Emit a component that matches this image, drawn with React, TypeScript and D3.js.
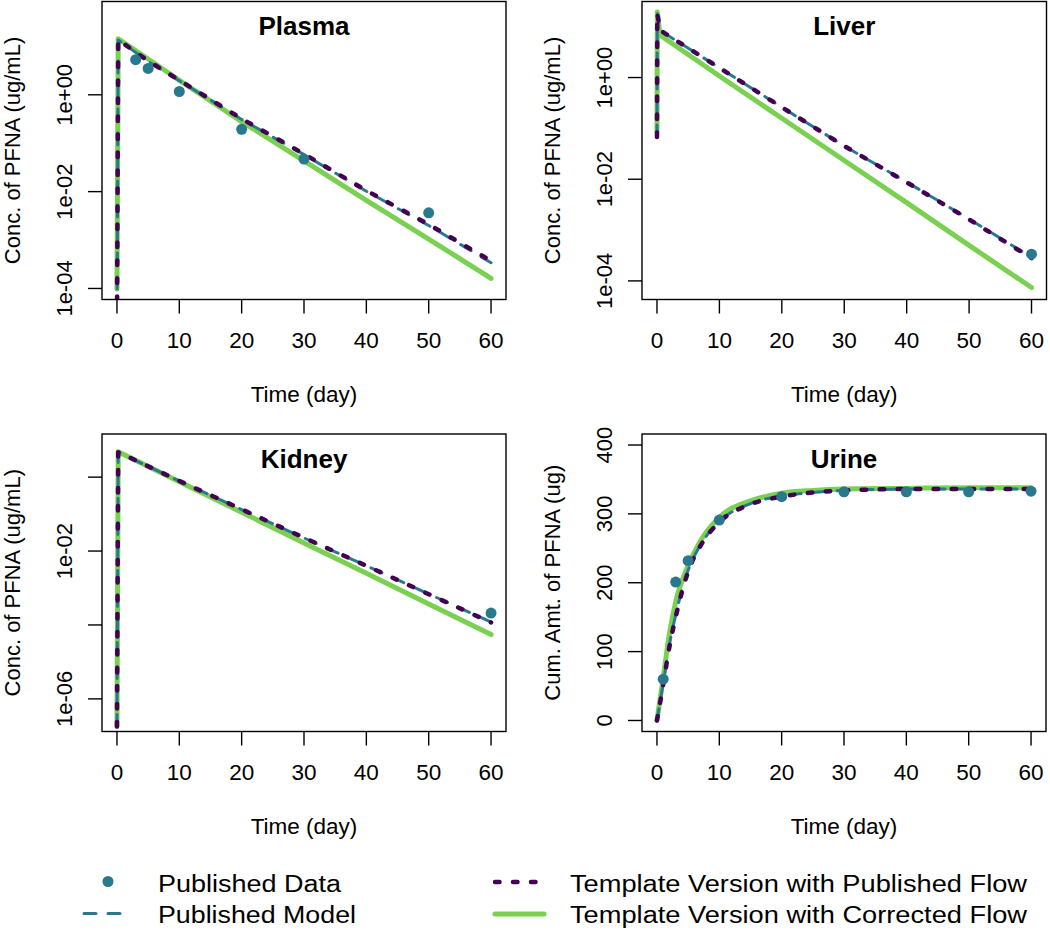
import React from 'react';
import * as d3 from 'd3';

// ---------- shared axis data ----------
const timeTicks = [0, 10, 20, 30, 40, 50, 60];
const timeLimits = [0, 60];

// ---------- Plasma ----------
const plasmaObsTime = [3, 5, 10, 20, 30, 50];
const plasmaObsValue = [5.3, 3.5, 1.17, 0.194, 0.047, 0.00365];
const plasmaModelTime = [0, 0.2, 5, 10, 20, 30, 40, 50, 60];
const plasmaPublishedModel = [1e-5, 13.5, 4.9, 1.95, 0.31, 0.058, 0.0102, 0.002, 3.4e-4];
const plasmaTemplatePublished = [1e-5, 13.7, 5.0, 2.0, 0.32, 0.06, 0.0105, 0.0021, 3.7e-4];
const plasmaTemplateCorrected = [9.8e-5, 14.4, 5.5, 2.0, 0.28, 0.043, 0.0066, 0.00105, 1.62e-4];
const plasmaYLim = [1e-4, 50];
const plasmaYTicks = [1e-4, 1e-2, 1];
const plasmaYTickLabels = ['1e-04', '1e-02', '1e+00'];

// ---------- Liver ----------
const liverObsTime = [60];
const liverObsValue = [3.35e-4];
const liverModelTime = [0, 0.05, 0.5, 10, 20, 30, 40, 50, 60];
const liverPublishedModel = [0.068, 18.0, 8.4, 1.55, 0.26, 0.045, 0.0088, 0.00165, 2.9e-4];
const liverTemplatePublished = [0.068, 18.2, 8.5, 1.55, 0.26, 0.045, 0.0087, 0.00162, 2.8e-4];
const liverTemplateCorrected = [0.085, 19.5, 6.8, 1.07, 0.158, 0.0234, 0.00347, 5.0e-4, 7.4e-5];
const liverYLim = [7.1e-5, 19];
const liverYTicks = [1e-4, 1e-2, 1];
const liverYTickLabels = ['1e-04', '1e-02', '1e+00'];

// ---------- Kidney ----------
const kidneyObsTime = [60];
const kidneyObsValue = [2.1e-4];
const kidneyModelTime = [0, 0.2, 10, 20, 30, 40, 50, 60];
const kidneyPublishedModel = [1.8e-7, 4.7, 0.78, 0.133, 0.0226, 0.004, 6.9e-4, 1.2e-4];
const kidneyTemplatePublished = [1.8e-7, 4.74, 0.79, 0.135, 0.0229, 0.004, 6.8e-4, 1.17e-4];
const kidneyTemplateCorrected = [1.8e-7, 4.9, 0.75, 0.112, 0.0166, 0.00251, 3.7e-4, 5.5e-5];
const kidneyYLim = [2.6e-7, 7.4];
const kidneyYTicks = [1e-6, 1e-4, 1e-2, 1];
const kidneyYTickLabels = ['1e-06', '', '1e-02', ''];

// ---------- Urine ----------
const urineObsTime = [1, 3, 5, 10, 20, 30, 40, 50, 60];
const urineObsValue = [60, 201, 232, 291, 325, 332, 332, 332, 333];
const urineModelTime = [0, 1, 2, 3, 5, 7, 10, 15, 20, 25, 30, 40, 50, 60];
const urinePublishedModel = [0, 54, 110, 153, 218, 255, 289, 315, 326, 331, 334, 336, 336, 336];
const urineTemplatePublished = [0, 52, 107, 150, 216, 254, 288, 314, 325, 331, 334, 336, 336, 336];
const urineTemplateCorrected = [0, 62, 126, 172, 225, 261, 295, 319, 330, 334, 336, 337, 338, 338];
const urineYLim = [0, 400];
const urineYTicks = [0, 100, 200, 300, 400];
const urineYTickLabels = ['0', '100', '200', '300', '400'];

// ---------- legend ----------
const legendLabels = [
  'Published Data',
  'Published Model',
  'Template Version with Published Flow',
  'Template Version with Corrected Flow',
];

// ---------- styles ----------
const COL_DATA = '#2A788E';
const COL_PUB = '#440154';
const COL_COR = '#7AD151';
const FONT = '"Liberation Sans", Arial, Helvetica, sans-serif';

type Box = { x0: number; x1: number; y0: number; y1: number };

type PanelProps = {
  id: string;
  title: string;
  ylab: string;
  box: Box;
  log: boolean;
  yLim: number[];
  yTicks: number[];
  yTickLabels: string[];
  obsT: number[];
  obsV: number[];
  modT: number[];
  pubModel: number[];
  tplPub: number[];
  tplCor: number[];
  smooth?: boolean;
};

function Panel(p: PanelProps) {
  const { box } = p;
  const xExt = (timeLimits[1] - timeLimits[0]) * 0.04;
  const x = d3
    .scaleLinear()
    .domain([timeLimits[0] - xExt, timeLimits[1] + xExt])
    .range([box.x0, box.x1]);

  let y: any;
  if (p.log) {
    const lo = Math.log10(p.yLim[0]);
    const hi = Math.log10(p.yLim[1]);
    const e = (hi - lo) * 0.04;
    y = d3.scaleLog().domain([Math.pow(10, lo - e), Math.pow(10, hi + e)]).range([box.y1, box.y0]);
  } else {
    const e = (p.yLim[1] - p.yLim[0]) * 0.04;
    y = d3.scaleLinear().domain([p.yLim[0] - e, p.yLim[1] + e]).range([box.y1, box.y0]);
  }

  const line = d3
    .line<number>()
    .x((_, i) => x(p.modT[i]))
    .y((v) => y(v))
    .curve(p.smooth ? d3.curveMonotoneX : d3.curveLinear);

  const cx = (box.x0 + box.x1) / 2;
  const cy = (box.y0 + box.y1) / 2;
  const clipId = `clip-${p.id}`;

  return (
    <g>
      <defs>
        <clipPath id={clipId}>
          <rect x={box.x0} y={box.y0} width={box.x1 - box.x0} height={box.y1 - box.y0} />
        </clipPath>
      </defs>
      <g clipPath={`url(#${clipId})`}>
        <path d={line(p.tplCor) || ''} fill="none" stroke={COL_COR} strokeWidth={5} strokeLinecap="round" strokeLinejoin="round" />
        <path d={line(p.pubModel) || ''} fill="none" stroke={COL_DATA} strokeWidth={3} strokeDasharray="12 12" strokeLinecap="round" strokeLinejoin="round" />
        <path d={line(p.tplPub) || ''} fill="none" stroke={COL_PUB} strokeWidth={4.5} strokeDasharray="4.5 13.5" strokeLinecap="round" strokeLinejoin="round" />
        {p.obsT.map((t, i) => (
          <circle key={i} cx={x(t)} cy={y(p.obsV[i])} r={5.5} fill={COL_DATA} />
        ))}
      </g>
      <rect x={box.x0} y={box.y0} width={box.x1 - box.x0} height={box.y1 - box.y0} fill="none" stroke="#000" strokeWidth={1.4} />
      {timeTicks.map((t) => (
        <g key={`xt${t}`}>
          <line x1={x(t)} x2={x(t)} y1={box.y1} y2={box.y1 + 14} stroke="#000" strokeWidth={1.4} />
          <text x={x(t)} y={box.y1 + 48.5} textAnchor="middle" fontSize={22.5} fontFamily={FONT}>
            {t}
          </text>
        </g>
      ))}
      {p.yTicks.map((v, i) => (
        <g key={`yt${i}`}>
          <line x1={box.x0 - 14} x2={box.x0} y1={y(v)} y2={y(v)} stroke="#000" strokeWidth={1.4} />
          {p.yTickLabels[i] ? (
            <text
              transform={`translate(${box.x0 - 30.5},${y(v)}) rotate(-90)`}
              textAnchor="middle"
              fontSize={22}
              fontFamily={FONT}
            >
              {p.yTickLabels[i]}
            </text>
          ) : null}
        </g>
      ))}
      <text x={cx} y={box.y0 + 33.5} textAnchor="middle" fontSize={26} fontWeight="bold" fontFamily={FONT}>
        {p.title}
      </text>
      <text x={cx} y={box.y1 + 102} textAnchor="middle" fontSize={22.5} fontFamily={FONT}>
        Time (day)
      </text>
      <text transform={`translate(${box.x0 - 82},${cy}) rotate(-90)`} textAnchor="middle" fontSize={22} fontFamily={FONT}>
        {p.ylab}
      </text>
    </g>
  );
}

export default function App() {
  const concLab = 'Conc. of PFNA (ug/mL)';
  return (
    <svg
      width={1050}
      height={930}
      viewBox="0 0 1050 930"
      style={{ position: 'absolute', left: 0, top: 0, background: '#fff', display: 'block' }}
    >
      <rect x={0} y={0} width={1050} height={930} fill="#fff" />
      <Panel
        id="plasma"
        title="Plasma"
        ylab={concLab}
        box={{ x0: 102, x1: 506, y0: 1.5, y1: 299.5 }}
        log
        yLim={plasmaYLim}
        yTicks={plasmaYTicks}
        yTickLabels={plasmaYTickLabels}
        obsT={plasmaObsTime}
        obsV={plasmaObsValue}
        modT={plasmaModelTime}
        pubModel={plasmaPublishedModel}
        tplPub={plasmaTemplatePublished}
        tplCor={plasmaTemplateCorrected}
      />
      <Panel
        id="liver"
        title="Liver"
        ylab={concLab}
        box={{ x0: 642, x1: 1046.5, y0: 1.5, y1: 299.5 }}
        log
        yLim={liverYLim}
        yTicks={liverYTicks}
        yTickLabels={liverYTickLabels}
        obsT={liverObsTime}
        obsV={liverObsValue}
        modT={liverModelTime}
        pubModel={liverPublishedModel}
        tplPub={liverTemplatePublished}
        tplCor={liverTemplateCorrected}
      />
      <Panel
        id="kidney"
        title="Kidney"
        ylab={concLab}
        box={{ x0: 102, x1: 506, y0: 434, y1: 731.5 }}
        log
        yLim={kidneyYLim}
        yTicks={kidneyYTicks}
        yTickLabels={kidneyYTickLabels}
        obsT={kidneyObsTime}
        obsV={kidneyObsValue}
        modT={kidneyModelTime}
        pubModel={kidneyPublishedModel}
        tplPub={kidneyTemplatePublished}
        tplCor={kidneyTemplateCorrected}
      />
      <Panel
        id="urine"
        title="Urine"
        ylab="Cum. Amt. of PFNA (ug)"
        box={{ x0: 642, x1: 1046, y0: 434, y1: 731.5 }}
        log={false}
        yLim={urineYLim}
        yTicks={urineYTicks}
        yTickLabels={urineYTickLabels}
        obsT={urineObsTime}
        obsV={urineObsValue}
        modT={urineModelTime}
        pubModel={urinePublishedModel}
        tplPub={urineTemplatePublished}
        tplCor={urineTemplateCorrected}
        smooth
      />
      <g fontFamily={FONT} fontSize={23}>
        <circle cx={108} cy={881.5} r={5.5} fill={COL_DATA} />
        <line x1={84} x2={125} y1={913.5} y2={913.5} stroke={COL_DATA} strokeWidth={3} strokeDasharray="12 12" strokeLinecap="round" />
        <line x1={495} x2={541} y1={882} y2={882} stroke={COL_PUB} strokeWidth={4.5} strokeDasharray="4.5 13.5" strokeLinecap="round" />
        <line x1={495} x2={544} y1={914} y2={914} stroke={COL_COR} strokeWidth={5} strokeLinecap="round" />
        <text x={158} y={891.5} textLength={183} lengthAdjust="spacingAndGlyphs">{legendLabels[0]}</text>
        <text x={158} y={923} textLength={198} lengthAdjust="spacingAndGlyphs">{legendLabels[1]}</text>
        <text x={570} y={891.5} textLength={457} lengthAdjust="spacingAndGlyphs">{legendLabels[2]}</text>
        <text x={570} y={923} textLength={457} lengthAdjust="spacingAndGlyphs">{legendLabels[3]}</text>
      </g>
    </svg>
  );
}
